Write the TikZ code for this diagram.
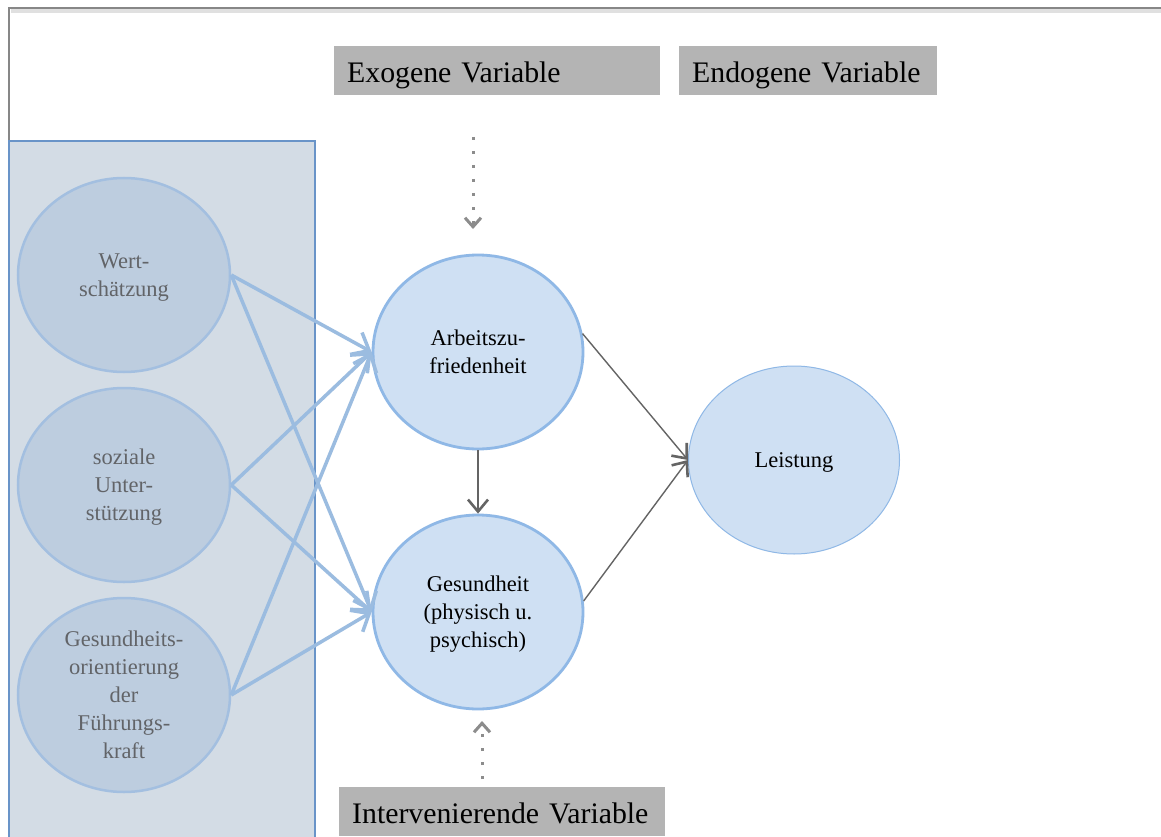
\documentclass[tikz,border=0pt]{standalone}
\usepackage{fontspec}
\setmainfont{Liberation Serif}
\usetikzlibrary{shapes.geometric,arrows.meta}

\definecolor{panelfill}{RGB}{211,220,229}
\definecolor{panelline}{RGB}{105,148,200}
\definecolor{leftfill}{RGB}{189,205,223}
\definecolor{leftline}{RGB}{163,191,224}
\definecolor{midfill}{RGB}{207,224,243}
\definecolor{midline}{RGB}{143,184,230}
\definecolor{bluearrow}{RGB}{155,188,224}
\definecolor{labelgray}{RGB}{180,180,180}
\definecolor{lefttext}{RGB}{98,100,104}
\definecolor{darkarrow}{RGB}{100,100,100}
\definecolor{dotgray}{RGB}{140,140,140}
\definecolor{framegray}{RGB}{135,135,135}

\tikzset{
  ellfont/.style={font=\fontsize{22.5}{28}\selectfont, align=center, text depth=0pt},
  leftell/.style={ellipse, ellfont, draw=leftline, line width=2.5pt, fill=leftfill,
    text=lefttext, minimum width=212pt, minimum height=194pt, inner sep=0pt},
  midell/.style={ellipse, ellfont, draw=midline, line width=2.8pt, fill=midfill,
    minimum width=210pt, minimum height=194pt, inner sep=0pt},
  outell/.style={ellipse, ellfont, draw=midline, line width=1pt, fill=midfill,
    minimum width=211pt, minimum height=188pt, inner sep=0pt},
  varlabel/.style={rectangle, fill=labelgray, font=\fontsize{29.8}{34}\selectfont,
    align=left, inner xsep=13pt, inner ysep=0pt, text height=31.5pt, text depth=8.5pt,
    minimum height=49pt, anchor=north west},
  bluearr/.style={draw=bluearrow, line width=3.5pt,
    -{Straight Barb[length=15pt, width=25pt]}},
  grayarr/.style={draw=darkarrow, line width=1.4pt,
    -{Straight Barb[length=12pt, width=20pt, line width=2.6pt]}},
  dotarr/.style={draw=dotgray, line width=3pt, dash pattern=on 3pt off 11pt,
    -{Straight Barb[length=9pt, width=16pt]}}
}

\begin{document}
\begin{tikzpicture}[x=1pt, y=-1pt]
  \useasboundingbox (0,0) rectangle (1161,837);
  \fill[white] (0,0) rectangle (1161,837);

  % page frame with a soft shadow under the top edge
  \draw[black!12, line width=4pt] (11,11) -- (1161,11);
  \draw[framegray, line width=1.5pt] (9,837) -- (9,8) -- (1161,8);

  % panel holding the independent variables
  \draw[panelline, fill=panelfill, line width=1.2pt] (9,837) -- (9,141) -- (315,141) -- (315,837);

  % independent variables
  \node[leftell] (wert) at (124,275) {Wert-\\schätzung};
  \node[leftell] (soz)  at (124,485) {soziale\\Unter-\\stützung};
  \node[leftell] (gfk)  at (124,695) {Gesundheits-\\orientierung\\der\\Führungs-\\kraft};

  % mediators and outcome
  \node[midell] (arb) at (478,352) {Arbeitszu-\\friedenheit};
  \node[midell] (ges) at (478,612) {Gesundheit\\(physisch u.\\psychisch)};
  \node[outell] (leis) at (794,460) {Leistung};

  % labels
  \node[varlabel, text width=300pt] (exo)  at (334,46)  {Exogene Variable};
  \node[varlabel, text width=232pt] (endo) at (679,46)  {Endogene Variable};
  \node[varlabel, text width=300pt] (inter) at (339,787) {Intervenierende Variable};

  % paths from the independent variables
  \draw[bluearr] (wert.east) -- (arb.west);
  \draw[bluearr] (wert.east) -- (ges.west);
  \draw[bluearr] (soz.east) -- (arb.west);
  \draw[bluearr] (soz.east) -- (ges.west);
  \draw[bluearr] (gfk.east) -- (arb.west);
  \draw[bluearr] (gfk.east) -- (ges.west);

  % paths to the outcome
  \draw[grayarr] (arb.south) -- (ges.north);
  \draw[grayarr] (arb.10) -- (leis.west);
  \draw[grayarr] (ges.6) -- (leis.west);

  % influences from outside the model
  \coordinate (exoin) at (473,137);
  \coordinate (exoend) at (473,229);
  \coordinate (interin) at (482,779);
  \coordinate (interend) at (482,721);
  \draw[dotarr] (exoin) -- (exoend);
  \draw[dotarr] (interin) -- (interend);
\end{tikzpicture}
\end{document}
